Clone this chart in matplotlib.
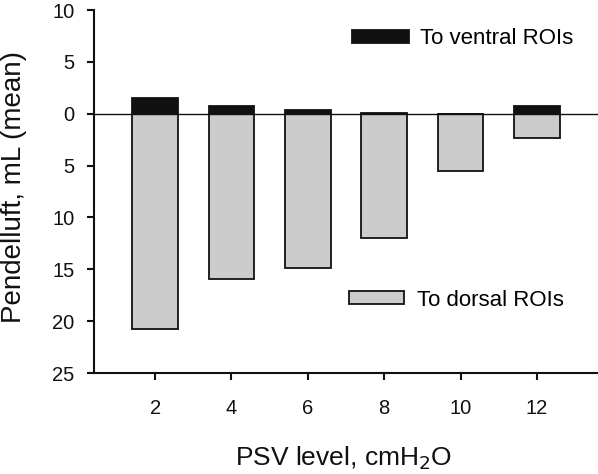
import numpy as np
from matplotlib import pyplot as plt
from matplotlib.ticker import FuncFormatter

plt.rcParams["font.family"] = ["Liberation Sans", "DejaVu Sans"]

# Data
psv_levels = [2, 4, 6, 8, 10, 12]
to_ventral = [1.5, 0.7, 0.4, 0.1, 0.0, 0.7]
to_dorsal = [-20.8, -15.9, -14.9, -12.0, -5.5, -2.3]
y_ticks = [10, 5, 0, -5, -10, -15, -20, -25]

fig = plt.figure(figsize=(5.98, 4.74), dpi=100)
ax = fig.add_axes([94 / 598, 1 - 373 / 474, 1 - 94 / 598, (373 - 10) / 474])

bar_w = 1.2
dorsal = ax.bar(psv_levels, to_dorsal, width=bar_w, color="#cccccc",
                edgecolor="#111111", linewidth=1.3, label="To dorsal ROIs", zorder=2)
ventral = ax.bar(psv_levels, to_ventral, width=bar_w, color="#111111",
                 edgecolor="#111111", linewidth=1.3, label="To ventral ROIs", zorder=2)
ax.axhline(0, color="#111111", linewidth=1.0, zorder=3)

ax.set_xlim(0.4, 13.6)
ax.set_ylim(-25, 10)
ax.set_xticks(psv_levels)
ax.set_yticks(y_ticks)
ax.yaxis.set_major_formatter(FuncFormatter(lambda v, p: f"{abs(int(v))}"))

for side in ["top", "right"]:
    ax.spines[side].set_visible(False)
for side in ["left", "bottom"]:
    ax.spines[side].set_linewidth(1.5)
    ax.spines[side].set_color("#111111")

ax.tick_params(axis="both", direction="out", length=5, width=1.5, color="#111111",
               labelsize=14.5, labelcolor="#111111")
ax.tick_params(axis="x", pad=14)
ax.tick_params(axis="y", pad=9)

ax.set_xlabel("PSV level, cmH$_2$O", fontsize=19, color="#111111")
ax.set_ylabel("Pendelluft, mL (mean)", fontsize=20, color="#111111")
ax.xaxis.set_label_coords(344 / 598, 1 - 444 / 474, transform=fig.transFigure)
ax.yaxis.set_label_coords(27 / 598, 1 - 187 / 474, transform=fig.transFigure)

leg1 = ax.legend(handles=[ventral], loc="center left", bbox_to_anchor=(332 / 598, 1 - 39 / 474),
                 bbox_transform=fig.transFigure, frameon=False, fontsize=16,
                 handlelength=2.57, handleheight=0.54, handletextpad=0.5)
ax.add_artist(leg1)
ax.legend(handles=[dorsal], loc="center left", bbox_to_anchor=(329 / 598, 1 - 300 / 474),
          bbox_transform=fig.transFigure, frameon=False, fontsize=16,
          handlelength=2.48, handleheight=0.54, handletextpad=0.58)

plt.savefig("out.png", dpi=100)
